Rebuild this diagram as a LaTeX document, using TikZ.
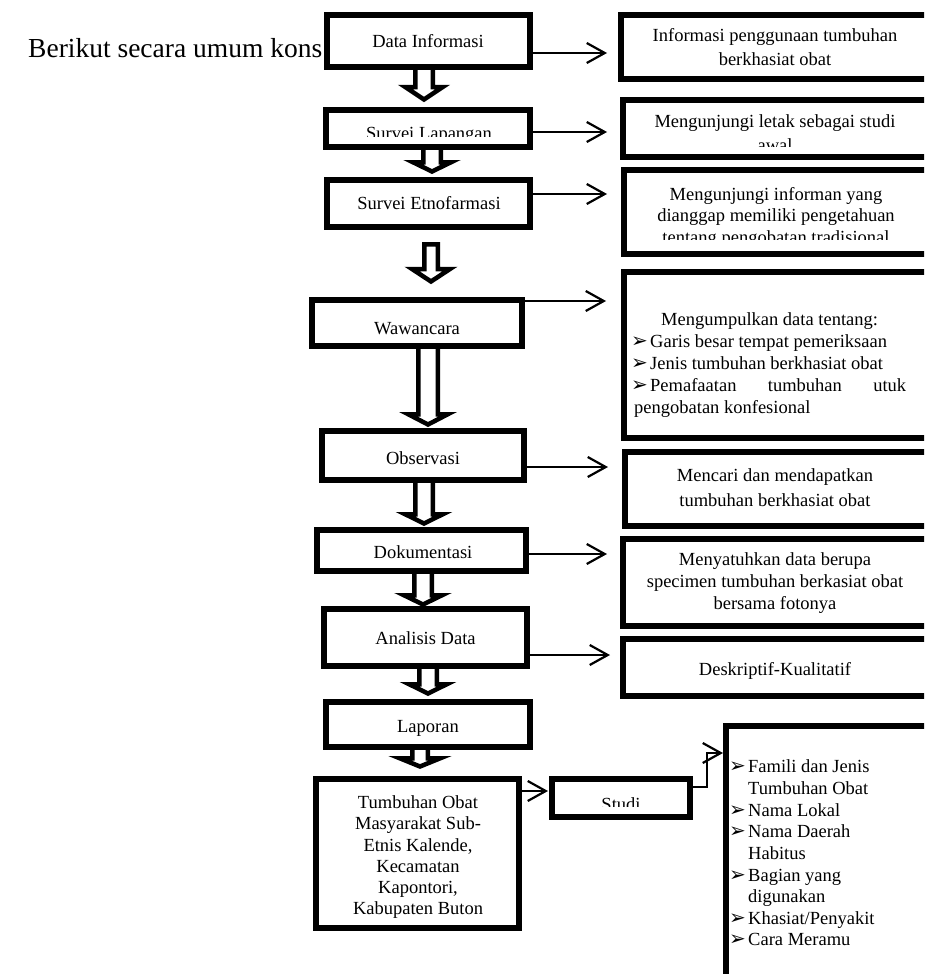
\documentclass[tikz,border=0pt]{standalone}
\usepackage{fontspec}
\setmainfont{Liberation Serif}
\newfontfamily\dvs{DejaVu Sans}
\usetikzlibrary{arrows.meta,calc}
\pgfdeclarelayer{bg}
\pgfsetlayers{bg,main}
\newcommand\bul{{\dvs\fontsize{20}{20}\selectfont ➢}}
\newcommand\bl[1]{\makebox[19pt][l]{\bul}#1}
\newcommand\nb[1]{\hspace*{19pt}#1}
\newcommand\bx[5]{%
  \pgfmathsetmacro\bxw{#4-#2}\pgfmathsetmacro\bxh{#5-#3}%
  \node[boxx,minimum width=\bxw pt,minimum height=\bxh pt] (#1) at ({(#2+#4)/2},{(#3+#5)/2}) {};}
% #1 x, #2 from, #3 to, #4 start offset, #5 tip offset, #6 head length, #7 shaft half width, #8 head half width
\newcommand\blk[8]{%
  \begin{pgfonlayer}{bg}
  \draw[blockarrow] let \p1=(#2.south -| #1,0), \p2=(#3.north -| #1,0) in
    (\x1-#7,\y1-#4) -- (\x1-#7,\y2+#5+#6) -- (\x1-#8,\y2+#5+#6) -- (\x1,\y2+#5)
    -- (\x1+#8,\y2+#5+#6) -- (\x1+#7,\y2+#5+#6) -- (\x1+#7,\y1-#4) -- cycle;
  \end{pgfonlayer}}
\begin{document}
\begin{tikzpicture}[x=1pt,y=-1pt,
  boxx/.style={draw,line width=6pt,fill=white,inner sep=0pt,outer sep=0pt},
  txt/.style={inner sep=0pt,font=\fontsize{18.5}{22}\selectfont},
  blockarrow/.style={draw,line width=4.5pt,fill=white,line join=miter,miter limit=10},
  conn/.style={line width=2.2pt,-{Straight Barb[length=18pt,width=20pt]}}]
\clip (0,0) rectangle (924,974);
\begin{pgfonlayer}{bg}
\fill[white] (0,0) rectangle (924,974);
\end{pgfonlayer}

\node[inner sep=0pt,anchor=base west,font=\fontsize{27.5}{32}\selectfont] (intro) at (28,58) {Berikut secara umum kons};

% left column
\bx{l1}{326.5}{15.5}{530}{67.5}
\bx{l2}{326}{110}{530}{147}
\bx{l3}{327}{180}{530}{227}
\bx{l4}{312}{300}{521.5}{346}
\bx{l5}{322}{431}{524}{480}
\bx{l6}{317}{530}{526}{571}
\bx{l7}{324}{609}{527}{666}
\bx{l8}{326}{702}{529.5}{746.5}
\bx{l9}{316}{779}{519}{928}
\bx{st}{552}{778.5}{690}{816.5}
% right column
\bx{r1}{621}{15.5}{928}{79}
\bx{r2}{623}{100}{928}{157}
\bx{r3}{624}{170}{928}{253.5}
\bx{r4}{624}{271.5}{928}{438}
\bx{r5}{625}{451.5}{928}{526}
\bx{r6}{623}{539}{928}{625.5}
\bx{r7}{623}{639}{928}{696}
\bx{r8}{725.5}{725.5}{960}{1000}

% block arrows
\blk{424}{l1}{l2}{0}{10.5}{12.5}{8.75}{18.75}
\blk{432}{l2}{l3}{0}{8.5}{9.25}{8.75}{19}
\blk{431}{l3}{l4}{17.25}{18.5}{12.5}{6.75}{19}
\blk{428}{l4}{l5}{0}{6.5}{10.25}{9.75}{19.75}
\blk{424}{l5}{l6}{0}{6.5}{9.25}{8.75}{18.75}
\blk{423}{l6}{l7}{0}{4.5}{9.25}{8.75}{19}
\blk{428}{l7}{l8}{0}{8.5}{9.25}{8.75}{18.75}
\blk{420}{l8}{l9}{0}{12.5}{8.25}{7.75}{20.25}

% thin arrows
\draw[conn,shorten >=14pt] (l1.east |- 0,53) -- (r1.west |- 0,53);
\draw[conn,shorten >=16pt] (l2.east |- 0,132) -- (r2.west |- 0,132);
\draw[conn,shorten >=17pt] (l3.east |- 0,194) -- (r3.west |- 0,194);
\draw[conn,shorten >=18pt] (l4.east |- 0,301) -- (r4.west |- 0,301);
\draw[conn,shorten >=17pt] (l5.east |- 0,467) -- (r5.west |- 0,467);
\draw[conn,shorten >=16pt] (l6.east |- 0,554) -- (r6.west |- 0,554);
\draw[conn,shorten >=13pt] (l7.east |- 0,655) -- (r7.west |- 0,655);
\draw[conn,shorten >=4pt] (l9.east |- 0,791) -- (st.west |- 0,791);
\draw[conn,shorten >=2.5pt] (st.east |- 0,787) -- (707,787) -- (707,753) -- (r8.west |- 0,753);

% left texts
\node[txt,anchor=base] (l1t) at (428,48) {Data Informasi};
\begin{scope}
\clip (329,113) rectangle (527,136.5);
\node[txt,anchor=base] (l2t) at (429,139.5) {Survei Lapangan};
\end{scope}
\node[txt,anchor=base] (l3t) at (429,209) {Survei Etnofarmasi};
\node[txt,anchor=base] (l4t) at (417,334) {Wawancara};
\node[txt,anchor=base] (l5t) at (423,464) {Observasi};
\node[txt,anchor=base] (l6t) at (423,558.5) {Dokumentasi};
\node[txt,anchor=base] (l7t) at (425.5,644) {Analisis Data};
\node[txt,anchor=base] (l8t) at (428,732) {Laporan};
\foreach \t [count=\i] in {Tumbuhan Obat,Masyarakat Sub-,{Etnis Kalende,},Kecamatan,{Kapontori,},Kabupaten Buton}
  \node[txt,anchor=base] (l9t\i) at (418,{808.5+(\i-1)*21.25}) {\t};
\begin{scope}
\clip (555,781) rectangle (687,806);
\node[txt,anchor=base] (stt) at (621,810) {Studi};
\end{scope}

% right texts
\node[txt,anchor=base] (r1a) at (775,41.5) {Informasi penggunaan tumbuhan};
\node[txt,anchor=base] (r1b) at (775,66) {berkhasiat obat};
\node[txt,anchor=base] (r2a) at (775,127) {Mengunjungi letak sebagai studi};
\begin{scope}
\clip (626,103) rectangle (925,146.5);
\node[txt,anchor=base] (r2b) at (775,151) {awal};
\end{scope}
\node[txt,anchor=base] (r3a) at (776,200) {Mengunjungi informan yang};
\node[txt,anchor=base] (r3b) at (776,221.5) {dianggap memiliki pengetahuan};
\begin{scope}
\clip (627,173) rectangle (925,239.5);
\node[txt,anchor=base] (r3c) at (776,243) {tentang pengobatan tradisional};
\end{scope}
\node[txt,anchor=base west] (r4a) at (661,325) {Mengumpulkan data tentang:};
\node[txt,anchor=base west] (r4b) at (631,347) {\bl{Garis besar tempat pemeriksaan}};
\node[txt,anchor=base west] (r4c) at (631,369) {\bl{Jenis tumbuhan berkhasiat obat}};
\node[txt,anchor=base west] (r4d) at (631,391) {\bl{\makebox[256pt][s]{Pemafaatan tumbuhan utuk}}};
\node[txt,anchor=base west] (r4e) at (634,413) {pengobatan konfesional};
\node[txt,anchor=base] (r5a) at (775,481.5) {Mencari dan mendapatkan};
\node[txt,anchor=base] (r5b) at (775,506) {tumbuhan berkhasiat obat};
\node[txt,anchor=base] (r6a) at (775,565) {Menyatuhkan data berupa};
\node[txt,anchor=base] (r6b) at (775,587) {specimen tumbuhan berkasiat obat};
\node[txt,anchor=base] (r6c) at (775,609) {bersama fotonya};
\node[txt,anchor=base] (r7a) at (775,675) {Deskriptif-Kualitatif};
\foreach \t [count=\i] in {\bl{Famili dan Jenis},\nb{Tumbuhan Obat},\bl{Nama Lokal},\bl{Nama Daerah},\nb{Habitus},\bl{Bagian yang},\nb{digunakan},\bl{Khasiat/Penyakit},\bl{Cara Meramu}}
  \node[txt,anchor=base west] (r8t\i) at (729,{772.7+(\i-1)*21.66}) {\t};
\end{tikzpicture}
\end{document}
